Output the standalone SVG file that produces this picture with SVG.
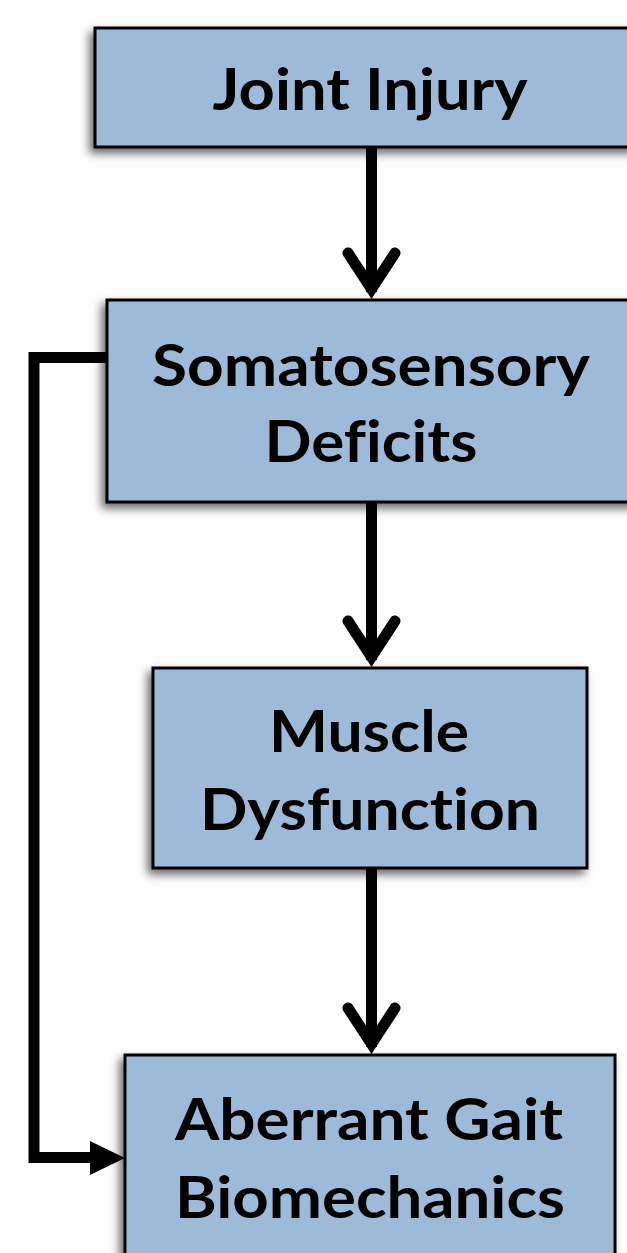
<svg xmlns="http://www.w3.org/2000/svg" width="627" height="1253" viewBox="0 0 627 1253">
<style>
.box{fill:#9EBAD9;stroke:#000;stroke-width:3;filter:url(#sh)}
.t{font-family:Lato,"Open Sans","Liberation Sans",sans-serif;font-weight:bold;font-size:58px;fill:#000;text-anchor:middle;font-variant-ligatures:none}
.c{fill:none;stroke:#000;stroke-width:11;stroke-linejoin:miter}
.h{fill:none;stroke:#000;stroke-width:11;stroke-linecap:round;stroke-linejoin:miter;stroke-miterlimit:10}
</style>
<defs>
<filter id="sh" x="-15%" y="-15%" width="130%" height="140%">
<feDropShadow dx="-4" dy="5" stdDeviation="5" flood-color="#000" flood-opacity="0.6"/>
</filter>
</defs>
<rect width="627" height="1253" fill="#fff"/>
<g id="connectors">
<line class="c" x1="371.5" y1="147" x2="371.5" y2="292"/>
<polyline class="h" points="348,253 371.5,289 395,253"/>
<line class="c" x1="371.5" y1="502" x2="371.5" y2="660"/>
<polyline class="h" points="348,621 371.5,657 395,621"/>
<line class="c" x1="371.5" y1="868" x2="371.5" y2="1047"/>
<polyline class="h" points="348,1008 371.5,1044 395,1008"/>
<polyline class="c" points="107,357.5 34,357.5 34,1157.5 95,1157.5"/>
<polygon points="90,1141 125,1158 90,1175" fill="#000"/>
</g>
<g id="n1">
<rect class="box" x="95" y="28" width="545" height="119"/>
<text class="t" x="370" y="110" textLength="315" lengthAdjust="spacingAndGlyphs">Joint Injury</text>
</g>
<g id="n2">
<rect class="box" x="107" y="300" width="533" height="202"/>
<text class="t" x="371" y="386" textLength="438" lengthAdjust="spacingAndGlyphs">Somatosensory</text>
<text class="t" x="371" y="462" textLength="213" lengthAdjust="spacingAndGlyphs">Deficits</text>
</g>
<g id="n3">
<rect class="box" x="153" y="668" width="434" height="200"/>
<text class="t" x="369" y="752" textLength="200" lengthAdjust="spacingAndGlyphs">Muscle</text>
<text class="t" x="370" y="830" textLength="340" lengthAdjust="spacingAndGlyphs">Dysfunction</text>
</g>
<g id="n4">
<rect class="box" x="125" y="1055" width="490" height="220"/>
<text class="t" x="369" y="1140" textLength="388" lengthAdjust="spacingAndGlyphs">Aberrant Gait</text>
<text class="t" x="370" y="1218" textLength="390" lengthAdjust="spacingAndGlyphs">Biomechanics</text>
</g>
</svg>
